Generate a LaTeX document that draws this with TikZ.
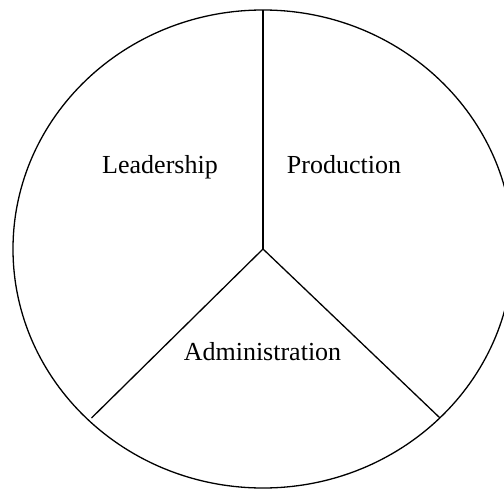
\documentclass[tikz,border=0pt]{standalone}
\usepackage{fontspec}
\setmainfont{Liberation Serif}
\begin{document}
\begin{tikzpicture}[x=1pt,y=-1pt,
  outline/.style={draw=black,line width=1.3pt},
  divider/.style={draw=black,line width=1.3pt},
  label/.style={font=\fontsize{26}{30}\selectfont,anchor=base,inner sep=0pt}]
\useasboundingbox (0,0) rectangle (504,490);
\clip (0,0) rectangle (504,490);
\coordinate (c) at (263,249);
\draw[outline] (c) ellipse [x radius=250, y radius=239];
\coordinate (top) at (263,10);
\coordinate (bl) at (91.5,418);
\coordinate (br) at (440,418);
\draw[divider] (c) -- (top);
\draw[divider] (c) -- (bl);
\draw[divider] (c) -- (br);
\node[label] (lead) at (160,173) {Leadership};
\node[label] (prod) at (344,173) {Production};
\node[label] (admin) at (262.5,360) {Administration};
\end{tikzpicture}
\end{document}
